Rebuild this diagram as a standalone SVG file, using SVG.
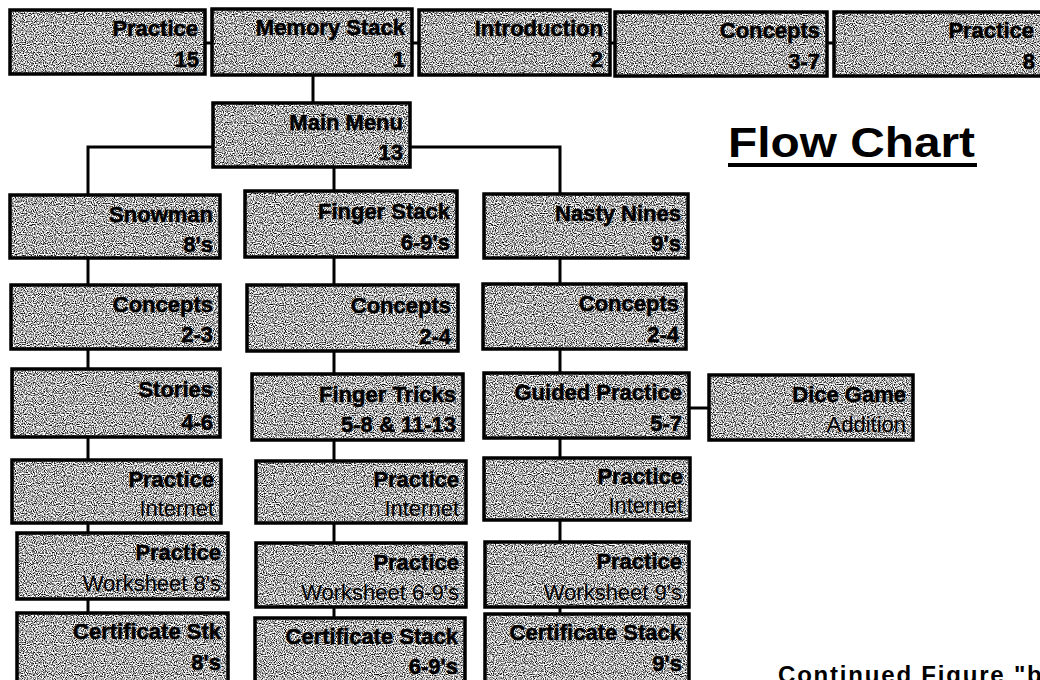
<svg xmlns="http://www.w3.org/2000/svg" width="1040" height="680" viewBox="0 0 1040 680">
  <defs>
    <filter id="speckle" x="0" y="0" width="1" height="1" color-interpolation-filters="sRGB">
      <feTurbulence type="fractalNoise" baseFrequency="0.9" numOctaves="1" seed="7" result="noise"/>
      <feColorMatrix in="noise" type="matrix" values="3.2 0 0 0 -0.92  3.2 0 0 0 -0.92  3.2 0 0 0 -0.92  0 0 0 0 1" result="grey"/>
      <feComposite in="grey" in2="SourceGraphic" operator="in"/>
    </filter>
    <pattern id="tex" width="300" height="300" patternUnits="userSpaceOnUse">
      <rect width="300" height="300" fill="#000" filter="url(#speckle)"/>
    </pattern>
  </defs>
  <style>
    .box { fill: url(#tex); stroke: #000; stroke-width: 3.5; }
    .t1 { font-family: "Liberation Sans", Arial, sans-serif; font-weight: bold; font-size: 22px; text-anchor: end; fill: #000; stroke: #000; stroke-width: 0.5; }
    .t2 { font-family: "Liberation Sans", Arial, sans-serif; font-weight: bold; font-size: 22px; text-anchor: end; fill: #000; stroke: #000; stroke-width: 0.5; }
    .t2r { font-family: "Liberation Sans", Arial, sans-serif; font-weight: normal; font-size: 22px; text-anchor: end; fill: #000; }
    .conn { stroke: #000; stroke-width: 3; fill: none; }
    .title { font-family: "Liberation Sans", Arial, sans-serif; font-weight: bold; font-size: 43px; fill: #000; }
    .note { font-family: "Liberation Sans", Arial, sans-serif; font-weight: bold; font-size: 24px; letter-spacing: 1.8px; fill: #000; }
  </style>
  <rect width="1040" height="680" fill="#fff"/>

  <g id="connectors">
    <line class="conn" x1="205" y1="43" x2="212" y2="43"/>
    <line class="conn" x1="412" y1="43" x2="419" y2="43"/>
    <line class="conn" x1="610" y1="43" x2="615" y2="43"/>
    <line class="conn" x1="827" y1="43" x2="834" y2="43"/>
    <line class="conn" x1="313" y1="75" x2="313" y2="103"/>
    <polyline class="conn" points="213,147 88,147 88,195"/>
    <polyline class="conn" points="410,147 560,147 560,194"/>
    <line class="conn" x1="334" y1="167" x2="334" y2="191"/>
    <line class="conn" x1="88" y1="258" x2="88" y2="285"/>
    <line class="conn" x1="88" y1="349" x2="88" y2="369"/>
    <line class="conn" x1="88" y1="437" x2="88" y2="460"/>
    <line class="conn" x1="88" y1="523" x2="88" y2="533"/>
    <line class="conn" x1="88" y1="599" x2="88" y2="613"/>
    <line class="conn" x1="334" y1="257" x2="334" y2="285"/>
    <line class="conn" x1="334" y1="351" x2="334" y2="374"/>
    <line class="conn" x1="334" y1="440" x2="334" y2="461"/>
    <line class="conn" x1="334" y1="523" x2="334" y2="543"/>
    <line class="conn" x1="334" y1="607" x2="334" y2="618"/>
    <line class="conn" x1="560" y1="258" x2="560" y2="284"/>
    <line class="conn" x1="560" y1="349" x2="560" y2="373"/>
    <line class="conn" x1="560" y1="438" x2="560" y2="458"/>
    <line class="conn" x1="560" y1="520" x2="560" y2="542"/>
    <line class="conn" x1="560" y1="607" x2="560" y2="614"/>
    <line class="conn" x1="689" y1="408" x2="709" y2="408"/>
  </g>

  <g id="n-practice15"><rect class="box" x="10" y="10" width="195" height="64"/><text class="t1" x="198" y="36">Practice</text><text class="t2" x="199" y="67">15</text></g>
  <g id="n-memory"><rect class="box" x="212" y="9" width="200" height="66"/><text class="t1" x="405" y="35">Memory Stack</text><text class="t2" x="405" y="67">1</text></g>
  <g id="n-intro"><rect class="box" x="419" y="10" width="191" height="65"/><text class="t1" x="603" y="36">Introduction</text><text class="t2" x="603" y="67">2</text></g>
  <g id="n-concepts37"><rect class="box" x="615" y="12" width="212" height="64"/><text class="t1" x="820" y="38">Concepts</text><text class="t2" x="820" y="69">3-7</text></g>
  <g id="n-practice8"><rect class="box" x="834" y="12" width="212" height="64"/><text class="t1" x="1034" y="38">Practice</text><text class="t2" x="1035" y="69">8</text></g>

  <g id="n-main"><rect class="box" x="213" y="103" width="197" height="64"/><text class="t1" x="403" y="130">Main Menu</text><text class="t2" x="403" y="160">13</text></g>

  <g id="n-snowman"><rect class="box" x="10" y="195" width="210" height="63"/><text class="t1" x="213" y="222">Snowman</text><text class="t2" x="213" y="252">8's</text></g>
  <g id="n-fingerstack"><rect class="box" x="245" y="191" width="212" height="66"/><text class="t1" x="450" y="219">Finger Stack</text><text class="t2" x="450" y="250">6-9's</text></g>
  <g id="n-nasty"><rect class="box" x="484" y="194" width="204" height="64"/><text class="t1" x="681" y="221">Nasty Nines</text><text class="t2" x="681" y="251">9's</text></g>

  <g id="n-concepts23"><rect class="box" x="11" y="285" width="209" height="64"/><text class="t1" x="213" y="312">Concepts</text><text class="t2" x="213" y="342">2-3</text></g>
  <g id="n-concepts24a"><rect class="box" x="247" y="285" width="211" height="66"/><text class="t1" x="451" y="313">Concepts</text><text class="t2" x="451" y="344">2-4</text></g>
  <g id="n-concepts24b"><rect class="box" x="483" y="284" width="203" height="65"/><text class="t1" x="679" y="311">Concepts</text><text class="t2" x="679" y="342">2-4</text></g>

  <g id="n-stories"><rect class="box" x="12" y="369" width="208" height="68"/><text class="t1" x="213" y="397">Stories</text><text class="t2" x="213" y="430">4-6</text></g>
  <g id="n-fingertricks"><rect class="box" x="252" y="374" width="211" height="66"/><text class="t1" x="456" y="402">Finger Tricks</text><text class="t2" x="456" y="432">5-8 &amp; 11-13</text></g>
  <g id="n-guided"><rect class="box" x="484" y="373" width="205" height="65"/><text class="t1" x="682" y="400">Guided Practice</text><text class="t2" x="682" y="431">5-7</text></g>
  <g id="n-dice"><rect class="box" x="709" y="375" width="204" height="65"/><text class="t1" x="906" y="402">Dice Game</text><text class="t2r" x="906" y="432">Addition</text></g>

  <g id="n-internet-l"><rect class="box" x="12" y="460" width="209" height="63"/><text class="t1" x="214" y="487">Practice</text><text class="t2r" x="214" y="516">Internet</text></g>
  <g id="n-internet-m"><rect class="box" x="256" y="461" width="210" height="62"/><text class="t1" x="459" y="487">Practice</text><text class="t2r" x="459" y="516">Internet</text></g>
  <g id="n-internet-r"><rect class="box" x="484" y="458" width="206" height="62"/><text class="t1" x="683" y="484">Practice</text><text class="t2r" x="683" y="513">Internet</text></g>

  <g id="n-ws-l"><rect class="box" x="17" y="533" width="211" height="66"/><text class="t1" x="221" y="560">Practice</text><text class="t2r" x="221" y="591">Worksheet 8's</text></g>
  <g id="n-ws-m"><rect class="box" x="256" y="543" width="210" height="64"/><text class="t1" x="459" y="570">Practice</text><text class="t2r" x="459" y="600">Worksheet 6-9's</text></g>
  <g id="n-ws-r"><rect class="box" x="485" y="542" width="204" height="65"/><text class="t1" x="682" y="569">Practice</text><text class="t2r" x="682" y="600">Worksheet 9's</text></g>

  <g id="n-cert-l"><rect class="box" x="17" y="613" width="211" height="70"/><text class="t1" x="221" y="639">Certificate Stk</text><text class="t2" x="221" y="670">8's</text></g>
  <g id="n-cert-m"><rect class="box" x="255" y="618" width="210" height="65"/><text class="t1" x="458" y="644">Certificate Stack</text><text class="t2" x="458" y="674">6-9's</text></g>
  <g id="n-cert-r"><rect class="box" x="485" y="614" width="204" height="69"/><text class="t1" x="682" y="640">Certificate Stack</text><text class="t2" x="682" y="671">9's</text></g>

  <g id="title">
    <text class="title" x="728" y="157" textLength="247" lengthAdjust="spacingAndGlyphs">Flow Chart</text>
    <rect x="728" y="163" width="249" height="4" fill="#000"/>
  </g>
  <g id="note">
    <text class="note" x="778" y="683">Continued Figure "b</text>
  </g>
</svg>
